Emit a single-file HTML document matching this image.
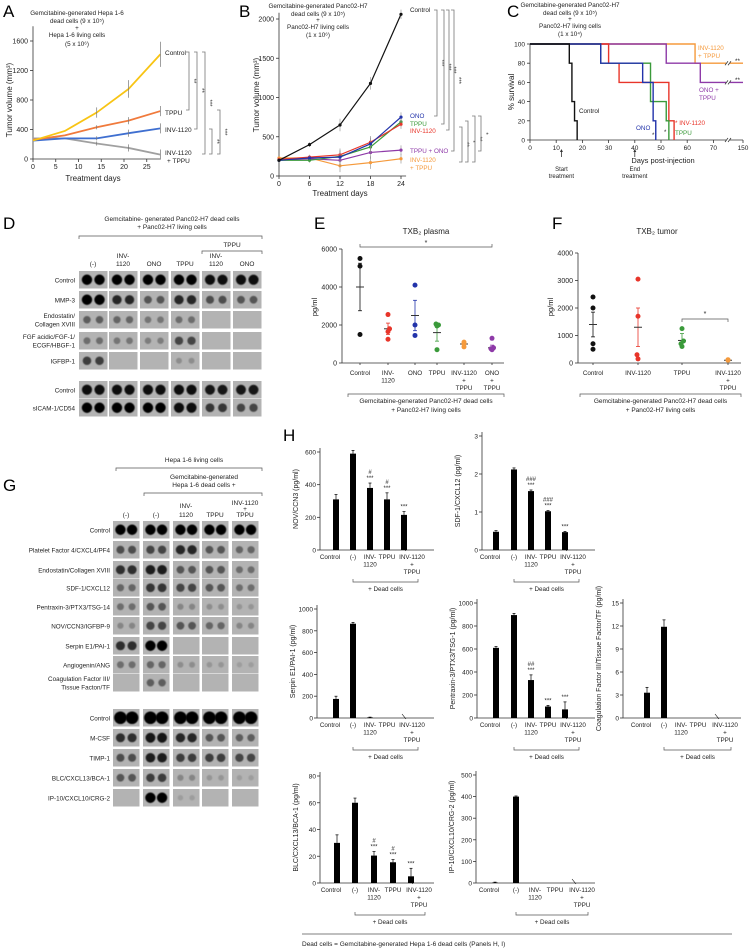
<!DOCTYPE html>
<html><head><meta charset="utf-8">
<style>
html,body{margin:0;padding:0;background:#fff;}
svg{display:block;font-family:"Liberation Sans",Arial,sans-serif;}
</style></head>
<body>
<svg id="fig" width="752" height="951" viewBox="0 0 752 951" xmlns="http://www.w3.org/2000/svg">
<rect x="0" y="0" width="752" height="951" fill="#fff"/>
</svg>
<script>
// ---------- DATA ----------
// Panel A
const aDays = [0, 7, 14, 21, 28];
const aControl = [250, 380, 630, 950, 1420];
const aTPPU = [260, 320, 430, 520, 650];
const aINV = [250, 280, 280, 350, 415];
const aCombo = [280, 280, 210, 150, 60];
const aErr = [20, 20, 70, 120, 170];
const aYTicks = [0, 400, 800, 1200, 1600];
const aXTicks = [0, 5, 10, 15, 20, 25];
// Panel B
const bDays = [0, 6, 12, 18, 24];
const bControl = [200, 400, 650, 1180, 2060];
const bONO = [200, 230, 240, 410, 750];
const bTPPU = [200, 200, 250, 370, 690];
const bINV = [210, 240, 270, 430, 660];
const bTPPUONO = [200, 220, 200, 300, 330];
const bINVTPPU = [230, 230, 130, 170, 220];
const bErr = [20, 30, 80, 80, 60];
const bYTicks = [0, 500, 1000, 1500, 2000];
// Panel C (Kaplan-Meier: [day, %])
const cControl = [[0,100],[15,100],[15,80],[16,80],[16,40],[17,40],[17,20],[18,20],[18,0]];
const cONO = [[0,100],[27,100],[27,80],[43,80],[43,60],[47,60],[47,20],[48,20],[48,0]];
const cTPPU = [[0,100],[27,100],[27,80],[46,80],[46,60],[46,40],[52,40],[52,20],[53,20],[53,0]];
const cINV = [[0,100],[30,100],[30,80],[34,80],[34,60],[53,60],[53,20],[55,20],[55,0]];
const cONOTPPU = [[0,100],[52,100],[52,80],[65,80],[65,60],[150,60]];
const cINVTPPU = [[0,100],[63,100],[63,80],[150,80]];
const cXTicks = [0,10,20,30,40,50,60,70,150];
const cYTicks = [0,20,40,60,80,100];
// Panel E
const eCats = ["Control","INV-|1120","ONO","TPPU","INV-1120|+|TPPU","ONO|+|TPPU"];
const ePoints = [[5500,5100,1500],[2550,1800,1650,1250],[4100,2000,1450],[2050,2000,1950,700],[1100,1000,850],[1300,800,750,700]];
const eMean = [4000,1800,2500,1600,1000,800];
const eSem = [1250,300,800,450,100,140];
const eYTicks = [0,2000,4000,6000];
// Panel F
const fCats = ["Control","INV-1120","TPPU","INV-1120|+|TPPU"];
const fPoints = [[2400,2000,700,500],[3050,1700,300,150],[1250,800,700,600],[100,120]];
const fMean = [1400,1300,820,100];
const fSem = [450,700,250,20];
const fYTicks = [0,1000,2000,3000,4000];
// Panel D blots
const dRows = ["Control","MMP-3","Endostatin/|Collagen XVIII","FGF acidic/FGF-1/|ECGF/HBGF-1","IGFBP-1","Control","sICAM-1/CD54"];
const dIntensity = [[1,1,1,1,0.95,0.95],[1,0.8,0.5,0.8,0.55,0.5],[0.45,0.4,0.3,0.35,0,0],[0.35,0.3,0.25,0.6,0,0],[0.65,0,0,0.15,0,0],[0.95,0.95,0.95,0.95,0.9,0.9],[1,1,1,0.95,0.7,0.6]];
// Panel G blots
const gRows = ["Control","Platelet Factor 4/CXCL4/PF4","Endostatin/Collagen XVIII","SDF-1/CXCL12","Pentraxin-3/PTX3/TSG-14","NOV/CCN3/IGFBP-9","Serpin E1/PAI-1","Angiogenin/ANG","Coagulation Factor III/|Tissue Facton/TF","Control","M-CSF","TIMP-1","BLC/CXCL13/BCA-1","IP-10/CXCL10/CRG-2"];
const gIntensity = [[1,1,1,1,1],[0.55,0.6,0.8,0.5,0.4],[0.75,0.85,0.5,0.5,0.35],[0.4,0.7,0.6,0.5,0.35],[0.35,0.5,0.2,0.15,0.1],[0.2,0.6,0.5,0.4,0.2],[0.75,1,0,0,0],[0.35,0.4,0.15,0.1,0.05],[0,0.45,0,0,0],[1,1,1,1,1],[0.75,0.9,0.8,0.5,0.45],[0.55,0.85,0.65,0.65,0.6],[0.5,0.65,0.2,0.1,0.05],[0,1,0.05,0,0]];
// Panel H
const hCats = ["Control","(-)","INV-|1120","TPPU","INV-1120|+|TPPU"];
const hNOV = [310,590,380,310,215];
const hNOVErr = [30,20,30,40,20];
const hSDF = [0.48,2.12,1.55,1.02,0.47];
const hSDFErr = [0.03,0.04,0.03,0.02,0.02];
const hSerpin = [175,865,5,0,0];
const hSerpinErr = [25,12,3,0,0];
const hPTX = [610,895,330,100,75];
const hPTXErr = [12,15,45,10,65];
const hCoag = [3.3,11.9,0,0,0];
const hCoagErr = [0.7,0.9,0,0,0];
const hBLC = [30,60,20.5,15.5,5];
const hBLCErr = [6,3.5,3,2,6];
const hIP = [2,400,0,0,0];
const hIPErr = [2,3,0,0,0];

// ---------- HELPERS ----------
const NS = "http://www.w3.org/2000/svg";
const svg = document.getElementById("fig");
function mk(tag, attrs, name, parent) {
  const el = document.createElementNS(NS, tag);
  for (const k in attrs) el.setAttribute(k, attrs[k]);
  
  
  (parent || svg).appendChild(el);
  return el;
}
function txt(x, y, s, size, name, opts) {
  opts = opts || {};
  const el = mk("text", {x: x, y: y, "font-size": size, fill: opts.fill || "#222", "text-anchor": opts.anchor || "middle"}, name);
  if (opts.rot) el.setAttribute("transform", "rotate(" + opts.rot + " " + x + " " + y + ")");
  if (opts.weight) el.setAttribute("font-weight", opts.weight);
  el.textContent = s;
  return el;
}
function multi(x, y, s, size, lh, name, opts) {
  s.split("|").forEach((p, i) => txt(x, y + i * lh, p, size, name, opts));
}
function line(x1, y1, x2, y2, name, stroke, w) {
  return mk("line", {x1: x1, y1: y1, x2: x2, y2: y2, stroke: stroke || "#333", "stroke-width": w || 0.8}, name);
}
function poly(pts, name, stroke, w) {
  return mk("polyline", {points: pts.map(p => p.join(",")).join(" "), fill: "none", stroke: stroke, "stroke-width": w || 1.5}, name);
}
function vbracket(x, y1, y2, tick, label, name) {
  mk("path", {d: "M" + (x - tick) + " " + y1 + " H" + x + " V" + y2 + " H" + (x - tick), fill: "none", stroke: "#777", "stroke-width": 0.8}, name);
  if (label) txt(x + 3, (y1 + y2) / 2, label, 6, name + "-label", {rot: 90, fill: "#333"});
}
function hbracket(x1, x2, y, tick, name) {
  mk("path", {d: "M" + x1 + " " + (y - tick) + " V" + y + " H" + x2 + " V" + (y - tick), fill: "none", stroke: "#555", "stroke-width": 0.7}, name);
}
function ubracket(x1, x2, y, tick, name) {
  mk("path", {d: "M" + x1 + " " + (y + tick) + " V" + y + " H" + x2 + " V" + (y + tick), fill: "none", stroke: "#555", "stroke-width": 0.7}, name);
}
function panelLabel(s, x, y) { txt(x, y, s, 17, "panel-label-" + s.toLowerCase(), {anchor: "start", fill: "#000"}); }

// ---------- PANEL LABELS ----------
panelLabel("A", 3, 17); panelLabel("B", 239, 17); panelLabel("C", 507, 17);
panelLabel("D", 3, 229); panelLabel("E", 314, 229); panelLabel("F", 552, 229);
panelLabel("G", 3, 491); panelLabel("H", 283, 441);

// ---------- PANEL A ----------
(function () {
  const x0 = 33, xs = 4.55, y0 = 159, ys = 118 / 1600;
  const X = d => x0 + d * xs, Y = v => y0 - v * ys;
  line(x0, Y(1800), x0, y0, "a-y-axis"); line(x0, y0, X(28), y0, "a-x-axis");
  aYTicks.forEach(t => { line(x0 - 3, Y(t), x0, Y(t), "a-y-tick"); txt(x0 - 5, Y(t) + 2.5, t, 7, "a-y-tick-label", {anchor: "end"}); });
  aXTicks.forEach(t => { line(X(t), y0, X(t), y0 + 3, "a-x-tick"); txt(X(t), y0 + 10, t, 7, "a-x-tick-label"); });
  txt(12, 100, "Tumor volume (mm³)", 8, "a-y-axis-title", {rot: -90});
  txt(93, 181, "Treatment days", 8, "a-x-axis-title");
  multi(77, 15, "Gemcitabine-generated Hepa 1-6|dead cells (9 x 10⁵)", 6.3, 8, "a-title");
  txt(77, 30, "+", 6.3, "a-title"); txt(77, 37, "Hepa 1-6 living cells", 6.3, "a-title"); txt(77, 46, "(5 x 10⁶)", 6.3, "a-title");
  const ser = [[aCombo, "#a0a0a0", "a-line-inv1120-tppu"], [aINV, "#3f6fd0", "a-line-inv1120"], [aTPPU, "#f07a3c", "a-line-tppu"], [aControl, "#f8c414", "a-line-control"]];
  ser.forEach(s => {
    poly(aDays.map((d, i) => [X(d), Y(s[0][i])]), s[2], s[1], 1.8);
    aDays.forEach((d, i) => { if (i > 1) line(X(d), Y(s[0][i] + aErr[i] * (s[0] === aControl ? 1 : 0.4)), X(d), Y(s[0][i] - aErr[i] * (s[0] === aControl ? 1 : 0.4)), s[2] + "-error", "#777", 0.7); });
  });
  txt(165, 55, "Control", 6.5, "a-label-control", {anchor: "start"});
  txt(165, 115, "TPPU", 6.5, "a-label-tppu", {anchor: "start"});
  txt(165, 132, "INV-1120", 6.5, "a-label-inv1120", {anchor: "start"});
  txt(165, 155, "INV-1120", 6.5, "a-label-combo", {anchor: "start"});
  txt(167, 163, "+ TPPU", 6.5, "a-label-combo", {anchor: "start"});
  vbracket(189, 52, 110, 3, "**", "a-sig-control-tppu");
  vbracket(197, 52, 129, 3, "**", "a-sig-control-inv");
  vbracket(205, 52, 154, 3, "***", "a-sig-control-combo");
  vbracket(212, 129, 154, 3, "**", "a-sig-inv-combo");
  vbracket(220, 110, 154, 3, "***", "a-sig-tppu-combo");
})();

// ---------- PANEL B ----------
(function () {
  const x0 = 279, xs = 122 / 24, y0 = 176, ys = 157 / 2000;
  const X = d => x0 + d * xs, Y = v => y0 - v * ys;
  line(x0, Y(2080), x0, y0, "b-y-axis"); line(x0, y0, X(25), y0, "b-x-axis");
  bYTicks.forEach(t => { line(x0 - 3, Y(t), x0, Y(t), "b-y-tick"); txt(x0 - 5, Y(t) + 2.5, t, 7, "b-y-tick-label", {anchor: "end"}); });
  bDays.forEach(t => { line(X(t), y0, X(t), y0 + 3, "b-x-tick"); txt(X(t), y0 + 10, t, 7, "b-x-tick-label"); });
  txt(259, 95, "Tumor volume (mm³)", 8, "b-y-axis-title", {rot: -90});
  txt(340, 196, "Treatment days", 8, "b-x-axis-title");
  multi(318, 8, "Gemcitabine-generated Panc02-H7|dead cells (9 x 10⁵)", 6.3, 8, "b-title");
  txt(318, 22, "+", 6.3, "b-title"); txt(318, 29, "Panc02-H7 living cells", 6.3, "b-title"); txt(318, 37, "(1 x 10⁶)", 6.3, "b-title");
  const ser = [[bINVTPPU, "#f59a3c", "b-line-inv1120-tppu"], [bTPPUONO, "#8e3aa8", "b-line-tppu-ono"], [bTPPU, "#3a9a3a", "b-line-tppu"], [bINV, "#e8352a", "b-line-inv1120"], [bONO, "#2233aa", "b-line-ono"], [bControl, "#111", "b-line-control"]];
  ser.forEach(s => {
    poly(bDays.map((d, i) => [X(d), Y(s[0][i])]), s[2], s[1], 1.2);
    bDays.forEach((d, i) => {
      line(X(d), Y(s[0][i] + bErr[i]), X(d), Y(s[0][i] - bErr[i]), s[2] + "-error", "#888", 0.6);
      mk("circle", {cx: X(d), cy: Y(s[0][i]), r: 1.6, fill: s[1]}, s[2] + "-point");
    });
  });
  const lx = 410;
  txt(lx, 12, "Control", 6.3, "b-label-control", {anchor: "start"});
  txt(lx, 118, "ONO", 6.3, "b-label-ono", {anchor: "start", fill: "#2233aa"});
  txt(lx, 126, "TPPU", 6.3, "b-label-tppu", {anchor: "start", fill: "#3a9a3a"});
  txt(lx, 133, "INV-1120", 6.3, "b-label-inv1120", {anchor: "start", fill: "#e8352a"});
  txt(lx, 153, "TPPU + ONO", 6.3, "b-label-tppu-ono", {anchor: "start", fill: "#8e3aa8"});
  txt(lx, 162, "INV-1120", 6.3, "b-label-inv1120-tppu", {anchor: "start", fill: "#f59a3c"});
  txt(lx, 170, "+ TPPU", 6.3, "b-label-inv1120-tppu", {anchor: "start", fill: "#f59a3c"});
  vbracket(437, 10, 116, 3, "***", "b-sig-control-ono");
  vbracket(444, 10, 124, 3, "***", "b-sig-control-tppu");
  vbracket(449, 10, 130, 3, "***", "b-sig-control-inv");
  vbracket(454, 10, 151, 3, "***", "b-sig-control-tppu-ono");
  vbracket(462, 127, 162, 3, "**", "b-sig-1");
  vbracket(468, 121, 162, 3, "*", "b-sig-2");
  vbracket(475, 116, 162, 3, "**", "b-sig-3");
  vbracket(481, 116, 151, 3, "*", "b-sig-4");
})();

// ---------- PANEL C ----------
(function () {
  const y0 = 140, ys = 96 / 100;
  const X = d => d <= 75 ? 530 + d * 2.62 : 726.5 + (d - 75) * (16.5 / 75);
  const Y = v => y0 - v * ys;
  line(530, Y(100), 530, y0, "c-y-axis"); line(530, y0, 743, y0, "c-x-axis");
  cYTicks.forEach(t => { line(527, Y(t), 530, Y(t), "c-y-tick"); txt(525, Y(t) + 2.5, t, 6.5, "c-y-tick-label", {anchor: "end"}); });
  cXTicks.forEach(t => { line(X(t), y0, X(t), y0 + 3, "c-x-tick"); txt(X(t), y0 + 10, t, 6.5, "c-x-tick-label"); });
  txt(514, 92, "% survival", 8, "c-y-axis-title", {rot: -90});
  txt(663, 163, "Days post-injection", 7.5, "c-x-axis-title");
  multi(570, 7, "Gemcitabine-generated Panc02-H7|dead cells (9 x 10⁵)", 6.3, 8, "c-title");
  txt(570, 21, "+", 6.3, "c-title"); txt(570, 28, "Panc02-H7 living cells", 6.3, "c-title"); txt(570, 36, "(1 x 10⁴)", 6.3, "c-title");
  const ser = [[cINVTPPU, "#f59a3c", "c-curve-inv1120-tppu"], [cONOTPPU, "#8e3aa8", "c-curve-ono-tppu"], [cINV, "#e8352a", "c-curve-inv1120"], [cTPPU, "#3a9a3a", "c-curve-tppu"], [cONO, "#2233aa", "c-curve-ono"], [cControl, "#111", "c-curve-control"]];
  ser.forEach(s => poly(s[0].map(p => [X(p[0]), Y(p[1])]), s[2], s[1], 1.4));
  [[Y(80)], [Y(60)]].forEach(v => { mk("rect", {x: 726, y: v[0] - 3, width: 4, height: 6, fill: "#fff"}, "c-axis-break"); line(725, v[0] + 2, 728, v[0] - 2, "c-axis-break"); line(728, v[0] + 2, 731, v[0] - 2, "c-axis-break"); });
  mk("rect", {x: 726, y: y0 - 3, width: 4, height: 6, fill: "#fff"}, "c-axis-break");
  line(725, y0 + 2, 728, y0 - 2, "c-axis-break"); line(728, y0 + 2, 731, y0 - 2, "c-axis-break");
  txt(698, 50, "INV-1120", 6.3, "c-label-inv1120-tppu", {anchor: "start", fill: "#f59a3c"});
  txt(698, 58, "+ TPPU", 6.3, "c-label-inv1120-tppu", {anchor: "start", fill: "#f59a3c"});
  txt(735, 63, "**", 6.3, "c-sig-inv1120-tppu", {anchor: "start"});
  txt(735, 82, "**", 6.3, "c-sig-ono-tppu", {anchor: "start"});
  txt(699, 92, "ONO +", 6.3, "c-label-ono-tppu", {anchor: "start", fill: "#8e3aa8"});
  txt(699, 100, "TPPU", 6.3, "c-label-ono-tppu", {anchor: "start", fill: "#8e3aa8"});
  txt(579, 113, "Control", 6.3, "c-label-control", {anchor: "start"});
  txt(636, 130, "ONO", 6.3, "c-label-ono", {anchor: "start", fill: "#2233aa"});
  txt(675, 135, "TPPU", 6.3, "c-label-tppu", {anchor: "start", fill: "#3a9a3a"});
  txt(675, 125, "* INV-1120", 6.3, "c-label-inv1120", {anchor: "start", fill: "#e8352a"});
  txt(652, 137, "*", 6, "c-sig-ono", {anchor: "start"});
  txt(664, 134, "*", 6, "c-sig-tppu", {anchor: "start"});
  [[12, "Start", "start-treatment"], [40, "End", "end-treatment"]].forEach(a => {
    line(X(a[0]), 157, X(a[0]), 151, "c-arrow-" + a[2]);
    mk("path", {d: "M" + (X(a[0]) - 1.5) + " 152 L" + X(a[0]) + " 149 L" + (X(a[0]) + 1.5) + " 152 Z", fill: "#333"}, "c-arrow-head-" + a[2]);
    txt(X(a[0]), 171, a[1], 6, "c-annotation-" + a[2]);
    txt(X(a[0]), 178, "treatment", 6, "c-annotation-" + a[2]);
  });
})();

// ---------- BLOTS ----------
function blots(rows, inten, colX, colW, rowTops, rowH, labelX, prefix, big) {
  rows.forEach((r, ri) => {
    const lines = r.split("|");
    const cy = rowTops[ri] + rowH / 2;
    lines.forEach((l, li) => txt(labelX, cy + 2.5 + (li - (lines.length - 1) / 2) * 8.5, l, 6.3, prefix + "-row-label", {anchor: "end"}));
    colX.forEach((cx, ci) => {
      mk("rect", {x: cx, y: rowTops[ri], width: colW, height: rowH, fill: "#b3b3b3"}, prefix + "-blot-box");
      const v = inten[ri][ci];
      [0.28, 0.72].forEach(f => {
        if (v > 0.02) {
          const g = Math.round(165 - v * 160);
          const r0 = (big && rows[ri] === "Control" && ri > 5) ? 6.3 : (2.6 + v * 2.6);
          mk("circle", {cx: cx + colW * f, cy: cy, r: r0, fill: "rgb(" + g + "," + g + "," + g + ")", filter: "url(#soft)"}, prefix + "-blot-dot");
        }
      });
    });
  });
}
const defs = mk("defs", {}, "defs");
const flt = mk("filter", {id: "soft", x: "-50%", y: "-50%", width: "200%", height: "200%"}, "soft-filter", defs);
mk("feGaussianBlur", {stdDeviation: 0.6}, "blur", flt);

// Panel D
(function () {
  multi(172, 221, "Gemcitabine- generated Panc02-H7 dead cells|+ Panc02-H7 living cells", 6.5, 8, "d-title");
  ubracket(79, 262, 236, 3, "d-bracket-all");
  txt(232, 247, "TPPU", 6.5, "d-header-tppu");
  ubracket(202, 262, 251, 3, "d-bracket-tppu");
  const colX = [79, 109, 140, 171, 202, 233];
  const heads = ["(-)", "INV-|1120", "ONO", "TPPU", "INV-|1120", "ONO"];
  heads.forEach((h, i) => { const p = h.split("|"); p.forEach((s, j) => txt(colX[i] + 14, 266 - (p.length - 1 - j) * 8, s, 6.5, "d-column-header")); });
  blots(dRows, dIntensity, colX, 28.5, [271, 291, 311, 332, 352, 381, 399], 17.5, 75, "d", true);
})();

// Panel G
(function () {
  txt(194, 462, "Hepa 1-6 living cells", 6.5, "g-title-living");
  ubracket(116, 262, 468, 3, "g-bracket-living");
  multi(204, 479, "Gemcitabine-generated|Hepa 1-6 dead cells +", 6.5, 8, "g-title-dead");
  ubracket(144, 262, 493, 3, "g-bracket-dead");
  const colX = [113, 143, 173, 202, 232];
  const heads = ["(-)", "(-)", "INV-|1120", "TPPU", "INV-1120|+|TPPU"];
  heads.forEach((h, i) => { const p = h.split("|"); p.forEach((s, j) => txt(colX[i] + 13, 517 - (p.length - 1 - j) * (p.length === 3 ? 6 : 9), s, 6.5, "g-column-header")); });
  blots(gRows, gIntensity, colX, 26.5, [521, 541, 561, 579, 598, 617, 637, 656, 674, 709, 729, 749, 769, 789], 17.5, 110, "g", true);
})();

// ---------- PANEL E / F (dot plots) ----------
function dotPlot(p) {
  const Y = v => p.y0 - v * p.ys;
  line(p.ax, Y(p.yTicks[p.yTicks.length - 1]), p.ax, p.y0, p.pre + "-y-axis");
  line(p.ax, p.y0, p.axEnd, p.y0, p.pre + "-x-axis");
  p.yTicks.forEach(t => { line(p.ax - 3, Y(t), p.ax, Y(t), p.pre + "-y-tick"); txt(p.ax - 5, Y(t) + 2.5, t, 7, p.pre + "-y-tick-label", {anchor: "end"}); });
  txt(p.ax - 25, 307, "pg/ml", 7.5, p.pre + "-y-axis-title", {rot: -90});
  p.cats.forEach((c, i) => {
    const x = p.catX[i];
    line(x, p.y0, x, p.y0 + 2, p.pre + "-x-tick");
    c.split("|").forEach((s, j) => txt(x, 375 + j * 7.5, s, 6.3, p.pre + "-x-tick-label"));
    line(x, Y(p.mean[i] + p.sem[i]), x, Y(p.mean[i] - p.sem[i]), p.pre + "-error-bar", p.colors[i], 0.8);
    line(x - 4, Y(p.mean[i]), x + 4, Y(p.mean[i]), p.pre + "-mean", "#333", 1);
    line(x - 2, Y(p.mean[i] + p.sem[i]), x + 2, Y(p.mean[i] + p.sem[i]), p.pre + "-error-cap", p.colors[i], 0.8);
    line(x - 2, Y(p.mean[i] - p.sem[i]), x + 2, Y(p.mean[i] - p.sem[i]), p.pre + "-error-cap", p.colors[i], 0.8);
    p.points[i].forEach((v, k) => mk("circle", {cx: x + (k % 2 ? 1.5 : -1) * (p.points[i].length > 3 && Math.abs(v - p.points[i][(k + 1) % p.points[i].length]) < 200 ? 1 : 0), cy: Y(v), r: 2.5, fill: p.colors[i]}, p.pre + "-point"));
  });
  ubracket(p.bx1, p.bx2, 394, 3, p.pre + "-group-bracket");
  txt((p.bx1 + p.bx2) / 2, 403, "Gemcitabine-generated Panc02-H7 dead cells", 6.5, p.pre + "-group-label");
  txt((p.bx1 + p.bx2) / 2, 412, "+ Panc02-H7 living cells", 6.5, p.pre + "-group-label");
  txt(p.titleX, 234, p.title, 8, p.pre + "-title");
}
dotPlot({pre: "e", ax: 342, axEnd: 504, y0: 363, ys: 19 / 1000, yTicks: eYTicks, cats: eCats, catX: [360, 388, 415, 437, 464, 492], points: ePoints, mean: eMean, sem: eSem, colors: ["#111", "#e8352a", "#2233aa", "#3a9a3a", "#f59a3c", "#8e3aa8"], bx1: 348, bx2: 504, title: "TXB₂ plasma", titleX: 426});
hbracket(360, 492, 247, 3, "e-sig-bracket");
txt(426, 245, "*", 7, "e-sig-label");
dotPlot({pre: "f", ax: 578, axEnd: 741, y0: 363, ys: 27.5 / 1000, yTicks: fYTicks, cats: fCats, catX: [593, 638, 682, 728], points: fPoints, mean: fMean, sem: fSem, colors: ["#111", "#e8352a", "#3a9a3a", "#f59a3c"], bx1: 580, bx2: 741, title: "TXB₂ tumor", titleX: 657});
hbracket(682, 728, 319, -3, "f-sig-bracket");
txt(705, 316, "*", 7, "f-sig-label");

// ---------- PANEL H (bar charts) ----------
function barChart(p) {
  const Y = v => p.y0 - v * p.ys;
  const top = Y(p.yTicks[p.yTicks.length - 1]) - 4;
  line(p.ax, top, p.ax, p.y0, p.pre + "-y-axis");
  line(p.ax, p.y0, p.axEnd, p.y0, p.pre + "-x-axis");
  p.yTicks.forEach(t => { line(p.ax - 3, Y(t), p.ax, Y(t), p.pre + "-y-tick"); txt(p.ax - 4, Y(t) + 2.5, t, 6.5, p.pre + "-y-tick-label", {anchor: "end"}); });
  txt(p.ax - 22, (top + p.y0) / 2, p.ylabel, 7, p.pre + "-y-axis-title", {rot: -90});
  p.vals.forEach((v, i) => {
    const x = p.barX[i];
    if (v > 0) {
      mk("rect", {x: x - 3, y: Y(v), width: 6, height: p.y0 - Y(v), fill: "#000"}, p.pre + "-bar");
      line(x, Y(v), x, Y(v + p.err[i]), p.pre + "-error-bar", "#000", 0.7);
      line(x - 1.5, Y(v + p.err[i]), x + 1.5, Y(v + p.err[i]), p.pre + "-error-cap", "#000", 0.7);
    }
    const ann = (p.ann[i] || "").split("|").filter(s => s);
    ann.forEach((s, j) => txt(x, Y(v + p.err[i]) - 3 - (ann.length - 1 - j) * 6, s, 6, p.pre + "-sig-label"));
  });
  line(p.barX[4] - 2, p.y0 - 4, p.barX[4] + 2, p.y0 + 1, p.pre + "-zero-mark", "#000", 0.6);
  hCats.forEach((c, i) => {
    const x = i === 0 ? p.barX[0] - 6 : (i === 4 ? p.barX[4] + 8 : p.barX[i]);
    c.split("|").forEach((s, j) => txt(x, p.y0 + 9 + j * 7.5, s, 6.3, p.pre + "-x-tick-label"));
  });
  ubracket(p.barX[1], p.barX[4] + 14, p.y0 + 32, -3, p.pre + "-dead-bracket");
  txt((p.barX[1] + p.barX[4] + 14) / 2, p.y0 + 41, "+ Dead cells", 6.3, p.pre + "-dead-label");
}
barChart({pre: "h-nov", ax: 320, axEnd: 434, y0: 550, ys: 98 / 600, yTicks: [0, 200, 400, 600], vals: hNOV, err: hNOVErr, barX: [336, 353, 370, 387, 404], ylabel: "NOV/CCN3 (pg/ml)", ann: ["", "", "#|***", "#|***", "***"]});
barChart({pre: "h-sdf", ax: 482, axEnd: 595, y0: 550, ys: 114 / 3, yTicks: [0, 1, 2, 3], vals: hSDF, err: hSDFErr, barX: [496, 514, 531, 548, 565], ylabel: "SDF-1/CXCL12 (pg/ml)", ann: ["", "", "###|***", "###|***", "***"]});
barChart({pre: "h-serpin", ax: 317, axEnd: 434, y0: 718, ys: 109 / 1000, yTicks: [0, 200, 400, 600, 800, 1000], vals: hSerpin, err: hSerpinErr, barX: [336, 353, 370, 387, 404], ylabel: "Serpin E1/PAI-1 (pg/ml)", ann: ["", "", "", "", ""]});
barChart({pre: "h-ptx", ax: 477, axEnd: 595, y0: 718, ys: 115 / 1000, yTicks: [0, 200, 400, 600, 800, 1000], vals: hPTX, err: hPTXErr, barX: [496, 514, 531, 548, 565], ylabel: "Pentraxin-3/PTX3/TSG-1 (pg/ml)", ann: ["", "", "##|***", "***", "***"]});
barChart({pre: "h-coag", ax: 623, axEnd: 741, y0: 718, ys: 115 / 15, yTicks: [0, 3, 6, 9, 12, 15], vals: hCoag, err: hCoagErr, barX: [647, 664, 681, 698, 717], ylabel: "Coagulation Factor III/Tissue Factor/TF (pg/ml)", ann: ["", "", "", "", ""]});
barChart({pre: "h-blc", ax: 320, axEnd: 434, y0: 883, ys: 107 / 80, yTicks: [0, 20, 40, 60, 80], vals: hBLC, err: hBLCErr, barX: [337, 355, 374, 393, 411], ylabel: "BLC/CXCL13/BCA-1 (pg/ml)", ann: ["", "", "#|***", "#|***", "***"]});
barChart({pre: "h-ip10", ax: 476, axEnd: 595, y0: 883, ys: 108 / 500, yTicks: [0, 100, 200, 300, 400, 500], vals: hIP, err: hIPErr, barX: [495, 516, 535, 555, 574], ylabel: "IP-10/CXCL10/CRG-2 (pg/ml)", ann: ["", "", "", "", ""]});

// footer
line(302, 934, 732, 934, "footer-rule", "#aaa", 1.5);
txt(302, 946, "Dead cells = Gemcitabine-generated Hepa 1-6 dead cells (Panels H, I)", 6.5, "footer-note", {anchor: "start"});
</script>
</body></html>
